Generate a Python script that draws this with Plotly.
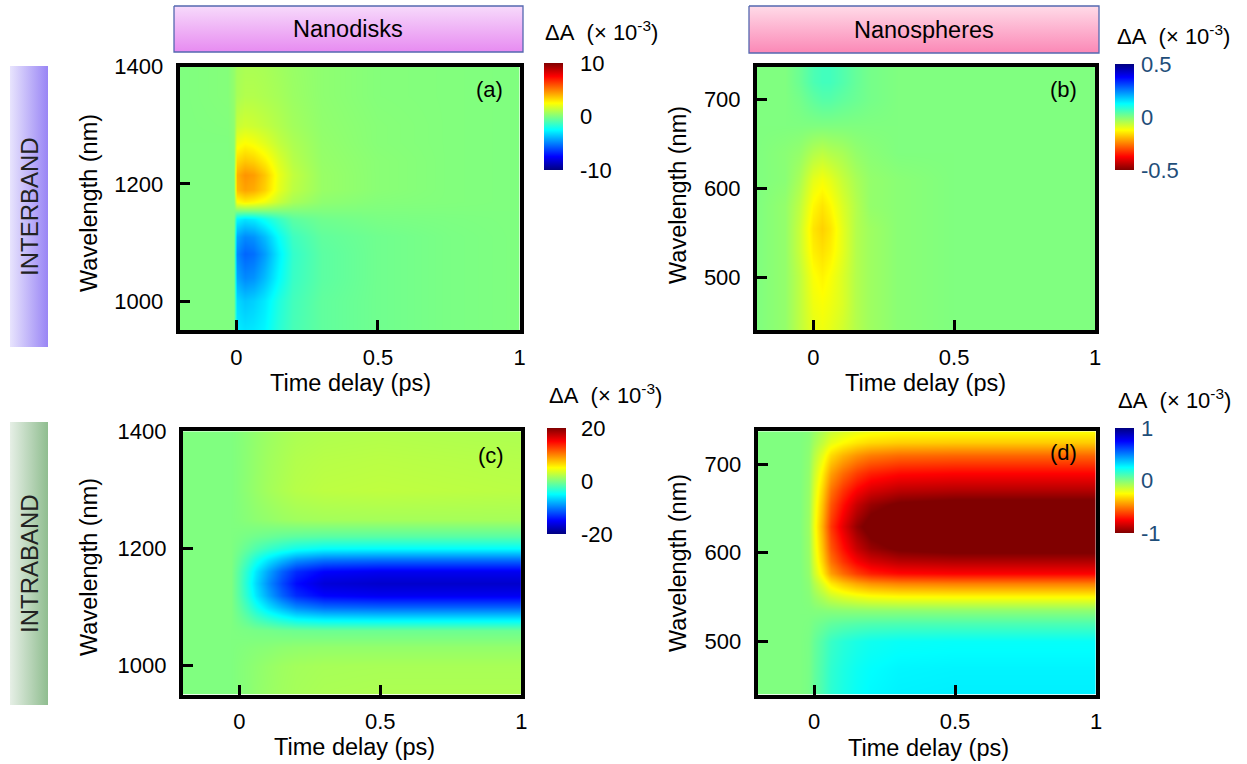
import plotly.graph_objects as go

W, H = 1247, 764

# ---------------- data ----------------
# (a) Nanodisks - interband   (dA x 1e-3)
time_a = [-0.2, -0.03, -0.01, 0.0, 0.03, 0.06, 0.1, 0.15, 0.2, 0.3, 0.5, 0.75, 1.0]
wl_a = [950, 1000, 1040, 1080, 1110, 1140, 1155, 1170, 1190, 1215, 1240, 1270, 1300, 1350, 1400]
dA_a = [
    [0, 0, 0, -2.8, -3.0, -2.9, -2.6, -1.7, -1.1, -0.6, -0.3, -0.1, 0],
    [0, 0, 0, -3.2, -3.6, -3.4, -2.9, -1.9, -1.2, -0.6, -0.3, -0.1, 0],
    [0, 0, 0, -4.2, -4.8, -4.6, -3.8, -2.5, -1.4, -0.7, -0.3, -0.1, 0],
    [0, 0, 0, -4.8, -5.5, -5.3, -4.4, -2.8, -1.5, -0.7, -0.3, -0.1, 0],
    [0, 0, 0, -4.2, -4.8, -4.6, -3.8, -2.4, -1.3, -0.6, -0.3, -0.1, 0],
    [0, 0, 0, -2.6, -3.0, -2.8, -2.2, -1.4, -0.7, -0.3, -0.1, -0.05, 0],
    [0, 0, 0, 0.0, 0.0, 0.0, 0.0, 0.0, 0.0, 0.0, 0.0, 0.0, 0],
    [0, 0, 0, 2.4, 2.8, 2.6, 2.2, 1.4, 0.8, 0.3, 0.1, 0.05, 0],
    [0, 0, 0, 3.8, 4.3, 4.1, 3.4, 2.0, 1.2, 0.5, 0.2, 0.05, 0],
    [0, 0, 0, 4.0, 4.6, 4.4, 3.6, 2.1, 1.3, 0.5, 0.2, 0.05, 0],
    [0, 0, 0, 3.2, 3.6, 3.4, 2.8, 1.8, 1.1, 0.45, 0.2, 0.05, 0],
    [0, 0, 0.2, 2.2, 2.5, 2.3, 1.9, 1.3, 0.9, 0.4, 0.15, 0.05, 0],
    [0, 0.05, 0.3, 1.4, 1.6, 1.5, 1.3, 1.0, 0.7, 0.35, 0.15, 0.05, 0],
    [0, 0.1, 0.4, 0.8, 1.0, 1.0, 0.9, 0.75, 0.55, 0.3, 0.1, 0.05, 0],
    [0, 0.1, 0.4, 0.7, 0.85, 0.85, 0.8, 0.65, 0.5, 0.3, 0.1, 0.05, 0],
]

# (b) Nanospheres - interband
time_b = [-0.2, -0.1, -0.05, 0.0, 0.03, 0.06, 0.1, 0.15, 0.2, 0.3, 0.5, 1.0]
wl_b = [440, 470, 500, 530, 555, 580, 610, 640, 670, 700, 720, 740]
dA_b = [
    [0, -0.02, -0.06, -0.10, -0.11, -0.10, -0.08, -0.05, -0.03, -0.01, 0, 0],
    [0, -0.02, -0.06, -0.11, -0.12, -0.11, -0.09, -0.05, -0.03, -0.01, 0, 0],
    [0, -0.02, -0.06, -0.12, -0.135, -0.12, -0.09, -0.05, -0.03, -0.01, 0, 0],
    [0, -0.02, -0.07, -0.14, -0.155, -0.14, -0.10, -0.05, -0.03, -0.01, 0, 0],
    [0, -0.02, -0.07, -0.15, -0.17, -0.15, -0.10, -0.05, -0.03, -0.01, 0, 0],
    [0, -0.02, -0.06, -0.13, -0.15, -0.13, -0.09, -0.05, -0.02, -0.01, 0, 0],
    [0, -0.01, -0.04, -0.10, -0.115, -0.10, -0.07, -0.04, -0.02, -0.01, 0, 0],
    [0, -0.01, -0.02, -0.05, -0.06, -0.05, -0.04, -0.02, -0.01, 0, 0, 0],
    [0, 0, 0, 0, 0, 0, 0, 0, 0, 0, 0, 0],
    [0, 0, 0.01, 0.03, 0.04, 0.04, 0.03, 0.02, 0.01, 0, 0, 0],
    [0, 0, 0.02, 0.05, 0.06, 0.06, 0.045, 0.025, 0.01, 0, 0, 0],
    [0, 0, 0.02, 0.05, 0.06, 0.06, 0.045, 0.025, 0.01, 0, 0, 0],
]

# (c) Nanodisks - intraband
time_c = [-0.2, -0.03, 0.0, 0.03, 0.06, 0.1, 0.15, 0.2, 0.3, 0.5, 0.75, 1.0]
wl_c = [950, 1000, 1030, 1060, 1080, 1100, 1120, 1140, 1160, 1180, 1200, 1220, 1250, 1300, 1350, 1400]
dA_c = [
    [0, 0, 0.2, 0.4, 0.7, 1.0, 1.3, 1.5, 1.7, 1.8, 1.8, 1.8],
    [0, 0, 0.2, 0.4, 0.6, 0.9, 1.2, 1.4, 1.55, 1.6, 1.6, 1.6],
    [0, 0, 0.1, 0.2, 0.3, 0.4, 0.6, 0.7, 0.8, 0.8, 0.8, 0.8],
    [0, 0, -0.1, -0.2, -0.3, -0.4, -0.6, -0.7, -0.8, -0.8, -0.8, -0.8],
    [0, 0, -0.6, -1.4, -2.3, -3.3, -4.3, -5.2, -5.8, -6.0, -6.0, -6.0],
    [0, 0, -1.1, -2.6, -4.2, -6.1, -7.9, -9.5, -10.7, -11.0, -11.0, -11.0],
    [0, 0, -1.6, -3.7, -5.9, -8.5, -11.2, -13.3, -15.0, -15.5, -15.5, -15.5],
    [0, 0, -1.7, -4.1, -6.5, -9.4, -12.2, -14.6, -16.5, -17.0, -17.0, -17.0],
    [0, 0, -1.6, -3.7, -5.9, -8.5, -11.2, -13.3, -15.0, -15.5, -15.5, -15.5],
    [0, 0, -1.1, -2.6, -4.2, -6.1, -7.9, -9.5, -10.7, -11.0, -11.0, -11.0],
    [0, 0, -0.5, -1.2, -1.9, -2.8, -3.6, -4.3, -4.9, -5.0, -5.0, -5.0],
    [0, 0, -0.15, -0.36, -0.57, -0.8, -1.1, -1.3, -1.45, -1.5, -1.5, -1.5],
    [0, 0, 0.15, 0.36, 0.57, 0.8, 1.1, 1.3, 1.45, 1.5, 1.5, 1.5],
    [0, 0, 0.25, 0.6, 0.95, 1.4, 1.8, 2.15, 2.4, 2.5, 2.4, 2.3],
    [0, 0, 0.23, 0.55, 0.87, 1.3, 1.65, 2.0, 2.2, 2.3, 2.2, 2.1],
    [0, 0, 0.2, 0.48, 0.76, 1.1, 1.45, 1.7, 1.9, 2.0, 1.9, 1.8],
]

# (d) Nanospheres - intraband
time_d = [-0.2, -0.05, -0.02, 0.0, 0.03, 0.06, 0.1, 0.15, 0.2, 0.3, 0.5, 1.0]
wl_d = [440, 470, 500, 520, 535, 550, 565, 577, 590, 605, 630, 655, 670, 690, 710, 725, 740]
dA_d = [
    [0, 0, 0.014, 0.053, 0.106, 0.162, 0.2, 0.235, 0.258, 0.274, 0.28, 0.28],
    [0, 0, 0.014, 0.051, 0.103, 0.157, 0.194, 0.227, 0.248, 0.265, 0.27, 0.27],
    [0, 0, 0.012, 0.046, 0.091, 0.139, 0.173, 0.2, 0.22, 0.235, 0.24, 0.24],
    [0, 0, 0.005, 0.019, 0.038, 0.058, 0.072, 0.084, 0.092, 0.098, 0.1, 0.1],
    [0, 0, -0.002, -0.006, -0.011, -0.017, -0.022, -0.025, -0.028, -0.029, -0.03, -0.03],
    [0, 0, -0.012, -0.046, -0.091, -0.139, -0.173, -0.2, -0.22, -0.235, -0.24, -0.24],
    [0, 0, -0.025, -0.095, -0.19, -0.29, -0.36, -0.42, -0.46, -0.49, -0.5, -0.5],
    [0, 0, -0.038, -0.143, -0.285, -0.435, -0.54, -0.63, -0.69, -0.735, -0.75, -0.75],
    [0, 0, -0.045, -0.171, -0.342, -0.522, -0.648, -0.756, -0.828, -0.882, -0.9, -0.9],
    [0, 0, -0.05, -0.19, -0.38, -0.58, -0.72, -0.86, -0.95, -1.02, -1.05, -1.05],
    [0, 0, -0.055, -0.21, -0.42, -0.64, -0.8, -0.96, -1.06, -1.13, -1.15, -1.15],
    [0, 0, -0.05, -0.19, -0.38, -0.58, -0.72, -0.86, -0.95, -1.02, -1.05, -1.05],
    [0, 0, -0.045, -0.171, -0.342, -0.522, -0.648, -0.756, -0.828, -0.882, -0.9, -0.9],
    [0, 0, -0.038, -0.143, -0.285, -0.435, -0.54, -0.63, -0.69, -0.735, -0.75, -0.75],
    [0, 0, -0.028, -0.105, -0.209, -0.319, -0.396, -0.462, -0.506, -0.539, -0.55, -0.55],
    [0, 0, -0.018, -0.067, -0.133, -0.203, -0.252, -0.294, -0.322, -0.343, -0.35, -0.35],
    [0, 0, -0.011, -0.042, -0.084, -0.128, -0.158, -0.185, -0.202, -0.216, -0.22, -0.22],
]

time_ticks = [0, 0.5, 1]
time_ticktext = ["0", "0.5", "1"]
wl_ticks_disks = [1000, 1200, 1400]
wl_ticks_spheres = [500, 600, 700]
cb_ticks_a = [-10, 0, 10]
cb_ticks_b = [-0.5, 0, 0.5]
cb_ticks_c = [-20, 0, 20]
cb_ticks_d = [-1, 0, 1]

panel_letters = ["(a)", "(b)", "(c)", "(d)"]
headers = ["Nanodisks", "Nanospheres"]
row_labels = ["INTERBAND", "INTRABAND"]

# ---------------- styling / layout helpers ----------------
FONT = "Arial, 'Liberation Sans', 'Helvetica', sans-serif"
JET = [[0.0, "#000080"], [0.125, "#0000ff"], [0.375, "#00ffff"],
       [0.625, "#ffff00"], [0.875, "#ff0000"], [1.0, "#800000"]]
CB_BLUE = "#1f4e79"


def fx(px):
    return px / W


def fy(py):
    return 1 - py / H


fig = go.Figure()


def add_heat(x, y, z, ax, zlim, reverse, cb_left, cb_top, cb_len, cb_ticks, tick_color, ticklen):
    fig.add_trace(go.Heatmap(
        x=x, y=y, z=z, xaxis="x" + ax, yaxis="y" + ax,
        zsmooth="best", colorscale=JET, reversescale=reverse,
        zmin=-zlim, zmax=zlim, hoverinfo="skip",
        colorbar=dict(
            x=fx(cb_left), xanchor="left", y=fy(cb_top), yanchor="top",
            len=cb_len, lenmode="pixels", thickness=19, thicknessmode="pixels",
            xpad=0, ypad=0, outlinewidth=0,
            tickvals=cb_ticks, ticktext=[("%g" % v) for v in cb_ticks],
            ticks="outside", ticklen=ticklen, tickcolor="rgba(0,0,0,0)",
            tickfont=dict(size=22, color=tick_color, family=FONT),
        ),
    ))


add_heat(time_a, wl_a, dA_a, "", 10, False, 544, 63, 107, cb_ticks_a, "black", 13)
add_heat(time_b, wl_b, dA_b, "2", 0.5, True, 1115, 64, 106, cb_ticks_b, CB_BLUE, 3)
add_heat(time_c, wl_c, dA_c, "3", 20, False, 547, 428, 106, cb_ticks_c, "black", 11)
add_heat(time_d, wl_d, dA_d, "4", 1, True, 1115, 428, 105, cb_ticks_d, CB_BLUE, 3)


# gradient boxes (headers and row labels) on a full-page pixel overlay axis
def grad_box(x0, y0, x1, y1, c0, c1, orient, border):
    if orient == "vertical":
        fg = dict(type="vertical", colorscale=[[0, c0], [1, c1]], start=y0, stop=y1)
    else:
        fg = dict(type="horizontal", colorscale=[[0, c0], [1, c1]], start=x0, stop=x1)
    fig.add_trace(go.Scatter(
        x=[x0, x1, x1, x0, x0], y=[y0, y0, y1, y1, y0],
        xaxis="x5", yaxis="y5", mode="lines", fill="toself",
        fillgradient=fg,
        line=dict(color=border if border else "rgba(0,0,0,0)", width=1.3),
        hoverinfo="skip", showlegend=False,
    ))


grad_box(174, 6, 523, 52, "#f7dafb", "#e78bf1", "vertical", "#5468b0")
grad_box(749, 6, 1099, 53, "#ffdbe8", "#fb88b6", "vertical", "#5468b0")
grad_box(10, 66, 48, 347, "#e8e4fd", "#9985f5", "horizontal", None)
grad_box(10, 422, 48, 705, "#e6efe6", "#8fbd8f", "horizontal", None)


def axes(dx, dy, yr, yticks):
    xa = dict(domain=[fx(dx[0]), fx(dx[1])], range=[-0.2, 1.0],
              tickvals=time_ticks, ticktext=time_ticktext,
              ticks="inside", ticklen=10, tickwidth=3, tickcolor="black",
              showline=True, linewidth=4, linecolor="black", mirror=True,
              showgrid=False, zeroline=False, ticklabelstandoff=4,
              tickfont=dict(size=22, color="black", family=FONT))
    ya = dict(domain=[fy(dy[1]), fy(dy[0])], range=yr,
              tickvals=yticks, ticks="inside", ticklen=10, tickwidth=3, tickcolor="black",
              showline=True, linewidth=4, linecolor="black", mirror=True,
              showgrid=False, zeroline=False, ticklabelstandoff=8,
              tickfont=dict(size=22, color="black", family=FONT))
    return xa, ya


xa1, ya1 = axes((179.6, 519.7), (66.7, 330.3), [950, 1400], wl_ticks_disks)
xa2, ya2 = axes((757.0, 1095.0), (66.7, 330.3), [440, 737], wl_ticks_spheres)
xa3, ya3 = axes((182.9, 521.3), (431.3, 694.6), [950, 1400], wl_ticks_disks)
xa4, ya4 = axes((757.6, 1096.0), (431.3, 694.6), [440, 737], wl_ticks_spheres)
ya2["anchor"] = "x2"; xa2["anchor"] = "y2"
ya3["anchor"] = "x3"; xa3["anchor"] = "y3"
ya4["anchor"] = "x4"; xa4["anchor"] = "y4"

ann = []


def text(x, y, s, size=22, angle=0, xanchor="center", color="black"):
    ann.append(dict(x=fx(x), y=fy(y), xref="paper", yref="paper", text=s,
                    showarrow=False, textangle=angle, xanchor=xanchor, yanchor="middle",
                    font=dict(size=size, color=color, family=FONT)))


text(348, 29, headers[0], 23.5)
text(924, 30, headers[1], 23.5)
text(29, 207, row_labels[0], 24, -90, color="#222222")
text(29, 564, row_labels[1], 24, -90, color="#222222")
for (x, y) in [(89, 203), (678, 195), (89, 567), (678, 563)]:
    text(x, y, "Wavelength (nm)", 23.5, -90)
for (x, y) in [(350, 383), (925, 383), (354, 747), (928, 748)]:
    text(x, y, "Time delay (ps)", 23.5)
for s, (x, y) in zip(panel_letters, [(489, 90), (1063, 89), (491, 455), (1063, 453)]):
    text(x, y, s, 22)
cbt = "ΔA&nbsp;&nbsp;(× 10<sup>-3</sup>)"
for (x, y) in [(543, 31), (1115, 35), (547, 394), (1116, 399)]:
    text(x, y, cbt, 22, xanchor="left")

fig.update_layout(
    width=W, height=H, autosize=False,
    margin=dict(l=0, r=0, t=0, b=0, pad=0, autoexpand=False),
    paper_bgcolor="white", plot_bgcolor="rgba(0,0,0,0)",
    font=dict(family=FONT, size=22, color="black"),
    showlegend=False,
    xaxis=xa1, yaxis=ya1, xaxis2=xa2, yaxis2=ya2,
    xaxis3=xa3, yaxis3=ya3, xaxis4=xa4, yaxis4=ya4,
    xaxis5=dict(domain=[0, 1], range=[0, W], visible=False, fixedrange=True, anchor="y5"),
    yaxis5=dict(domain=[0, 1], range=[H, 0], visible=False, fixedrange=True, anchor="x5"),
    annotations=ann,
)

fig.write_html(
    "out.html",
    config={"displayModeBar": False},
    post_script="document.body.style.margin='0px';document.body.style.padding='0px';"
                "document.documentElement.style.overflow='hidden';",
)
